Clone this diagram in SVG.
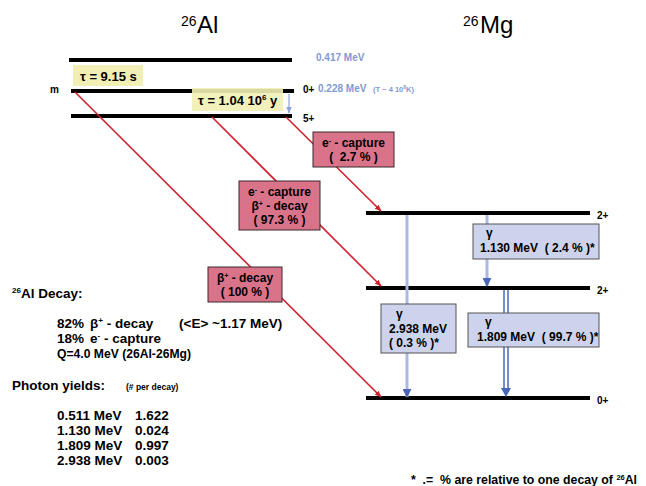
<svg xmlns="http://www.w3.org/2000/svg" width="646" height="486" viewBox="0 0 646 486" xml:space="preserve">
<style>
text{font-family:"Liberation Sans",Arial,sans-serif;fill:#000;white-space:pre}
.b{font-weight:bold}
.lvl{stroke:#000;stroke-width:4}
.red{stroke:#d0202c;stroke-width:1.6;fill:none}
.rbox{fill:#d9738a;stroke:#3a2a2a;stroke-width:1}
.bbox{fill:#cdd3ec;stroke:#555;stroke-width:1}
.ybox{fill:#f2efb4}
.lb{fill:#8497d0;font-weight:bold}
.bt{font-size:12px;font-weight:bold}
.lt{font-size:13.5px;font-weight:bold}
</style>
<defs>
<marker id="ra" viewBox="0 0 10 10" refX="9" refY="5" markerWidth="7" markerHeight="7" orient="auto" markerUnits="userSpaceOnUse"><path d="M0,1 L10,5 L0,9 z" fill="#d0202c"/></marker>
<marker id="ba" viewBox="0 0 10 10" refX="9" refY="5" markerWidth="9" markerHeight="9" orient="auto" markerUnits="userSpaceOnUse"><path d="M0,0 L10,5 L0,10 z" fill="#4a66b8"/></marker>
<marker id="sa" viewBox="0 0 10 10" refX="9" refY="5" markerWidth="7" markerHeight="7" orient="auto" markerUnits="userSpaceOnUse"><path d="M0,1 L10,5 L0,9 z" fill="#8fa3d8"/></marker>
</defs>

<text x="181" y="26" font-size="14">26</text><text x="197" y="33" font-size="24">Al</text>
<text x="463" y="26" font-size="14">26</text><text x="480" y="33" font-size="24">Mg</text>

<g id="al-levels">
<line class="lvl" x1="69" y1="60" x2="292" y2="60"/>
<line class="lvl" x1="71" y1="91" x2="294" y2="91"/>
<line class="lvl" x1="71" y1="116" x2="292" y2="116"/>
<text x="50" y="93" font-size="10" class="b">m</text>
<text x="303" y="93" font-size="10" class="b">0+</text>
<text x="303" y="122" font-size="10" class="b">5+</text>
<text x="316" y="61" font-size="10" class="lb">0.417 MeV</text>
<text x="318" y="92" font-size="10" class="lb">0.228 MeV</text>
<text x="373" y="92" font-size="7.5" class="lb">(T ~ 4 10<tspan font-size="5" dy="-3">8</tspan><tspan dy="3">K)</tspan></text>
</g>

<g id="tau1"><rect class="ybox" x="73" y="65" width="70" height="21"/><text x="80" y="81" font-size="13" class="b">τ = 9.15 s</text></g>
<g id="tau2"><rect class="ybox" x="192" y="88" width="91" height="23" opacity="0.9"/><text x="198" y="105" font-size="13" class="b">τ = 1.04 10<tspan font-size="8" dy="-5">6</tspan><tspan dy="5"> y</tspan></text></g>
<line x1="289" y1="94" x2="289" y2="113" stroke="#8fa3d8" stroke-width="1.2" marker-end="url(#sa)"/>

<g id="mg-levels">
<line class="lvl" x1="366" y1="213" x2="590" y2="213"/>
<line class="lvl" x1="366" y1="288" x2="590" y2="288"/>
<line class="lvl" x1="366" y1="398" x2="590" y2="398"/>
<text x="597" y="219" font-size="10" class="b">2+</text>
<text x="597" y="294" font-size="10" class="b">2+</text>
<text x="597" y="404" font-size="10" class="b">0+</text>
</g>

<g id="connectors">
<line class="red" x1="75" y1="92" x2="381" y2="397" marker-end="url(#ra)"/>
<line class="red" x1="212" y1="117" x2="381" y2="286" marker-end="url(#ra)"/>
<line class="red" x1="286" y1="117" x2="381" y2="211" marker-end="url(#ra)"/>
<line x1="407" y1="215" x2="407" y2="397" stroke="#a9b9e2" stroke-width="3" marker-end="url(#ba)"/>
<line x1="487" y1="215" x2="487" y2="286" stroke="#a9b9e2" stroke-width="3" marker-end="url(#ba)"/>
<line x1="504" y1="290" x2="504" y2="392" stroke="#4a66b8" stroke-width="1.5"/>
<line x1="508" y1="290" x2="508" y2="392" stroke="#4a66b8" stroke-width="1.5"/>
<path d="M501,388 L511,388 L506,397 z" fill="#4a66b8"/>
</g>

<g id="ec27"><rect class="rbox" x="313" y="132" width="81" height="35"/>
<text x="353.5" y="147" text-anchor="middle" class="bt">e<tspan font-size="7" dy="-4">-</tspan><tspan dy="4"> - capture</tspan></text>
<text x="353.5" y="161" text-anchor="middle" class="bt">(  2.7 % )</text></g>

<g id="ec973"><rect class="rbox" x="239" y="181" width="81" height="49"/>
<text x="279.5" y="196" text-anchor="middle" class="bt">e<tspan font-size="7" dy="-4">-</tspan><tspan dy="4"> - capture</tspan></text>
<text x="279.5" y="210" text-anchor="middle" class="bt">β<tspan font-size="7" dy="-4">+</tspan><tspan dy="4"> - decay</tspan></text>
<text x="279.5" y="224" text-anchor="middle" class="bt">( 97.3 % )</text></g>

<g id="bp100"><rect class="rbox" x="208" y="267" width="74" height="35"/>
<text x="245" y="282" text-anchor="middle" class="bt">β<tspan font-size="7" dy="-4">+</tspan><tspan dy="4"> - decay</tspan></text>
<text x="245" y="296" text-anchor="middle" class="bt">( 100 % )</text></g>

<g id="g1130"><rect class="bbox" x="473" y="224" width="126" height="35"/>
<text x="486" y="237" class="bt" font-size="10">γ</text>
<text x="480" y="252" class="bt">1.130 MeV  ( 2.4 % )*</text></g>

<g id="g2938"><rect class="bbox" x="381" y="304" width="75" height="49"/>
<text x="396" y="318" class="bt" font-size="10">γ</text>
<text x="389" y="333" class="bt">2.938 MeV</text>
<text x="389" y="347" class="bt">( 0.3 % )*</text></g>

<g id="g1809"><rect class="bbox" x="468" y="313" width="131" height="34"/>
<text x="485" y="326" class="bt" font-size="10">γ</text>
<text x="477" y="341" class="bt">1.809 MeV  ( 99.7 % )*</text></g>

<g id="notes">
<text x="12" y="298" class="lt"><tspan font-size="8" dy="-5">26</tspan><tspan dy="5">Al Decay:</tspan></text>
<text x="57" y="328" class="lt">82%</text>
<text x="90" y="328" class="lt">β<tspan font-size="8" dy="-5">+</tspan><tspan dy="5"> - decay</tspan></text>
<text x="179" y="328" class="lt">(&lt;E&gt; ~1.17 MeV)</text>
<text x="57" y="343" class="lt">18%</text>
<text x="90" y="343" class="lt">e<tspan font-size="8" dy="-5">-</tspan><tspan dy="5"> - capture</tspan></text>
<text x="57" y="358" class="lt" textLength="134" lengthAdjust="spacingAndGlyphs">Q=4.0 MeV (26Al-26Mg)</text>
<text x="12" y="390" class="lt">Photon yields:</text>
<text x="126" y="390" font-size="8.5" class="b">(# per decay)</text>
<text x="57" y="420" class="lt">0.511 MeV</text><text x="135" y="420" class="lt">1.622</text>
<text x="57" y="435" class="lt">1.130 MeV</text><text x="135" y="435" class="lt">0.024</text>
<text x="57" y="450" class="lt">1.809 MeV</text><text x="135" y="450" class="lt">0.997</text>
<text x="57" y="465" class="lt">2.938 MeV</text><text x="135" y="465" class="lt">0.003</text>
<text x="411" y="484" font-size="12.3" class="b">*  .=  % are relative to one decay of <tspan font-size="7.5" dy="-4">26</tspan><tspan dy="4">Al</tspan></text>
</g>
</svg>
